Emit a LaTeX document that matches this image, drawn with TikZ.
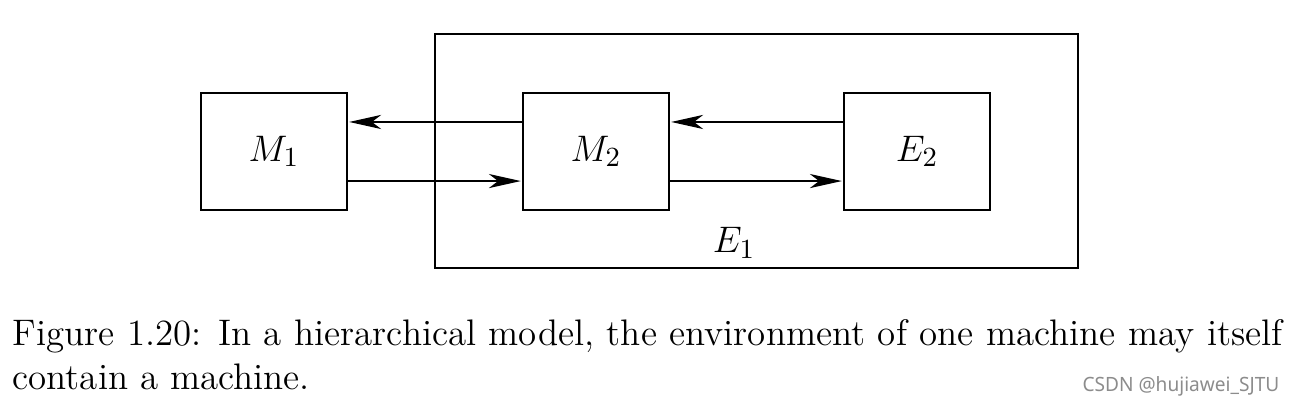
\documentclass[tikz,border=0pt]{standalone}
\usepackage{amsmath}
\usepackage{fontspec}
\newfontfamily\markfont{Noto Sans}
\usetikzlibrary{arrows.meta}

\begin{document}
\begin{tikzpicture}[x=0.325pt,y=-0.325pt,
    machine/.style={draw,line width=0.6pt,minimum width=47.45pt,minimum height=38pt,
        font=\fontsize{12.9}{15}\selectfont},
    signal/.style={line width=0.5pt,shorten >=0.4pt,
        -{Stealth[length=10.4pt,width=4.6pt,inset=3pt]}},
    caption/.style={anchor=base west,inner sep=0pt,font=\fontsize{12}{14.3}\selectfont}]
\useasboundingbox (0,0) rectangle (1294,404);

% Environment of M1
\node[draw,line width=0.6pt,minimum width=209pt,minimum height=76pt] (env) at (756.5,151) {};
\node[font=\fontsize{12.9}{15}\selectfont] (envlabel) at (734,243) {$E_1$};

% Machines
\node[machine] (m1) at (274,151.5) {$M_1$};
\node[machine] (m2) at (596,151.5) {$M_2$};
\node[machine] (e2) at (917,151.5) {$E_2$};

% Signals
\draw[signal] ([yshift=9.6pt]m2.west) -- ([yshift=9.6pt]m1.east);
\draw[signal] ([yshift=-9.6pt]m1.east) -- ([yshift=-9.6pt]m2.west);
\draw[signal] ([yshift=9.6pt]e2.west) -- ([yshift=9.6pt]m2.east);
\draw[signal] ([yshift=-9.6pt]m2.east) -- ([yshift=-9.6pt]e2.west);

% Caption
\node[caption] (cap1) at (12,345)
    {\makebox[412.75pt][s]{Figure 1.20: In a hierarchical model, the environment of one machine may itself}};
\node[caption] (cap2) at (12,389) {contain a machine.};
\node[anchor=base east,inner sep=0pt,text=black!45,font=\markfont\fontsize{6.4}{8}\selectfont]
    (mark) at (1280,391) {\scalebox{0.97}[1]{CSDN @hujiawei\_SJTU}};

\end{tikzpicture}
\end{document}
